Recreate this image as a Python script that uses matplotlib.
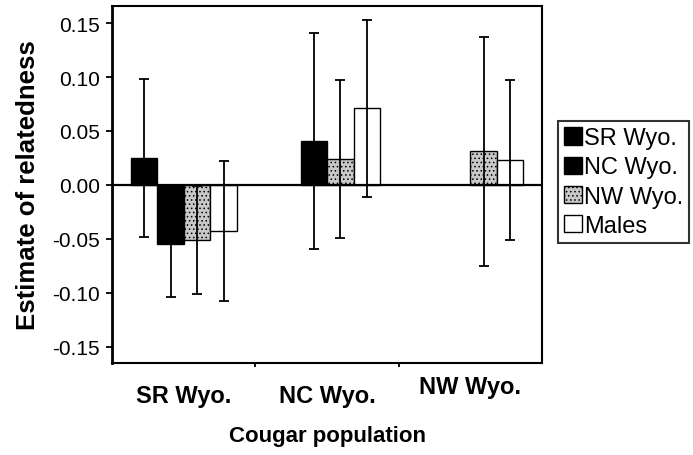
import numpy as np
import matplotlib
matplotlib.use('Agg')
import matplotlib.pyplot as plt
from matplotlib.transforms import ScaledTranslation

# Data
populations = ["SR Wyo.", "NC Wyo.", "NW Wyo."]
series = ["SR Wyo.", "NC Wyo.", "NW Wyo.", "Males"]
srWyo = [0.025, np.nan, np.nan]
ncWyo = [-0.055, 0.041, np.nan]
nwWyo = [-0.051, 0.024, 0.031]
males = [-0.043, 0.071, 0.023]
srWyoErr = [0.073, np.nan, np.nan]
ncWyoErr = [0.049, 0.100, np.nan]
nwWyoErr = [0.050, 0.073, 0.106]
malesErr = [0.065, 0.082, 0.074]
yTicks = [-0.15, -0.10, -0.05, 0.00, 0.05, 0.10, 0.15]

plt.rcParams['font.family'] = ['Liberation Sans', 'DejaVu Sans']
plt.rcParams['hatch.linewidth'] = 0.6

fig = plt.figure(figsize=(6.93, 4.56), dpi=100)
ax = fig.add_axes([0.162, 0.202, 0.620, 0.783])

values = [srWyo, ncWyo, nwWyo, males]
errors = [srWyoErr, ncWyoErr, nwWyoErr, malesErr]
colors = ['black', 'black', '#c8c8c8', 'white']
hatches = [None, None, '....', None]
width = 0.185
x = np.arange(len(populations))

for i, (vals, errs, col) in enumerate(zip(values, errors, colors)):
    pos = x + (i - 1.5) * width
    ax.bar(pos, vals, width, color=col, edgecolor='black', linewidth=1.0, hatch=hatches[i],
           label=series[i], zorder=2)
    ax.errorbar(pos, vals, yerr=errs, fmt='none', ecolor='black', elinewidth=1.3,
                capsize=3.5, capthick=1.3, zorder=3)

ax.axhline(0, color='black', linewidth=1.6, zorder=4)

ax.set_xlim(-0.5, 2.5)
ax.set_ylim(-0.165, 0.166)
ax.set_yticks(yTicks)
ax.set_yticklabels(["%.2f" % v for v in yTicks], fontsize=15)
ax.tick_params(axis='y', direction='out', length=4, width=1.3, pad=5)

ax.set_xticks(x)
ax.set_xticklabels(populations, fontsize=17, fontweight='bold')
ax.set_xticks([0.5, 1.5], minor=True)
ax.tick_params(axis='x', which='major', length=0, pad=15)
ax.tick_params(axis='x', which='minor', direction='out', length=3, width=1.3)
# the NW label sits a bit higher in the reference
lbl = ax.get_xticklabels()[2]
lbl.set_transform(lbl.get_transform() + ScaledTranslation(0, 6 / 72, fig.dpi_scale_trans))

for side in ['left', 'right', 'top', 'bottom']:
    ax.spines[side].set_linewidth(1.5)
ax.spines['left'].set_linewidth(2.0)

ax.set_ylabel("Estimate of relatedness", fontsize=18.5, fontweight='bold', labelpad=9)
ax.set_xlabel("Cougar population", fontsize=16, fontweight='bold', labelpad=13)

leg = ax.legend(loc='center left', bbox_to_anchor=(558 / 693, 1 - 183 / 456),
                bbox_transform=fig.transFigure, fontsize=17, frameon=True, fancybox=False,
                handlelength=0.75, handleheight=0.75, handletextpad=0.1, borderpad=0.25,
                labelspacing=0.3, borderaxespad=0)
leg.get_frame().set_edgecolor('black')
leg.get_frame().set_linewidth(1.5)

fig.savefig('out.png', dpi=100)
